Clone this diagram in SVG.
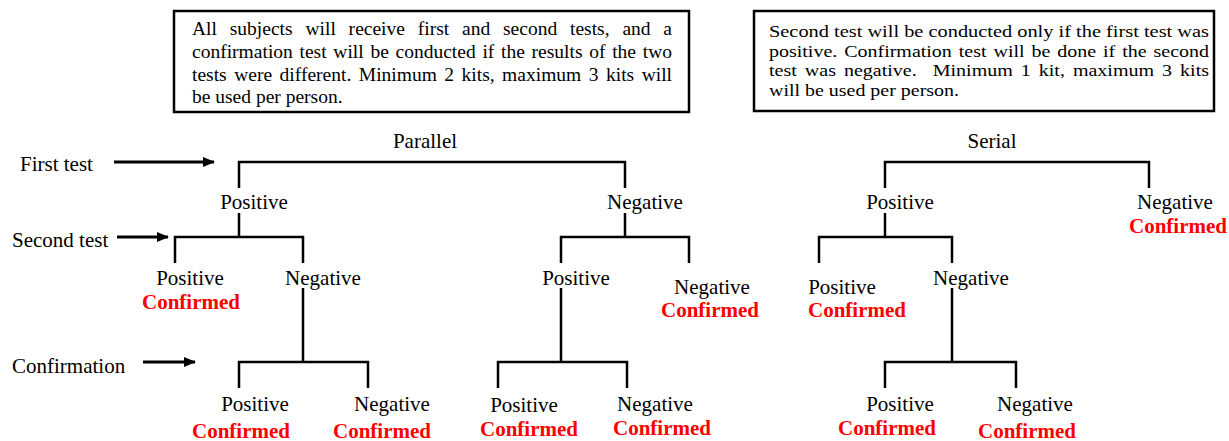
<svg xmlns="http://www.w3.org/2000/svg" width="1229" height="441" viewBox="0 0 1229 441">
<style>
.t{font-family:"Liberation Serif","Times New Roman",serif;font-size:21px;fill:#000}
.c{font-family:"Liberation Serif","Times New Roman",serif;font-size:21px;font-weight:bold;fill:#ff0000}
.b1{font-family:"Liberation Serif","Times New Roman",serif;font-size:19.5px;fill:#000}
.b2{font-family:"Liberation Serif","Times New Roman",serif;font-size:17.5px;fill:#000}
.box{fill:#fff;stroke:#000;stroke-width:2.5}
.ln{fill:none;stroke:#000;stroke-width:2.5}
.ar{fill:none;stroke:#000;stroke-width:3}
.m{text-anchor:middle}
</style>
<defs>
<marker id="ah" viewBox="0 0 12 10" refX="11" refY="5" markerWidth="12" markerHeight="10" markerUnits="userSpaceOnUse" orient="auto">
<path d="M0,0 L12,5 L0,10 Z" fill="#000"/>
</marker>
</defs>

<g id="note-parallel">
<rect class="box" x="174" y="11" width="515" height="101"/>
<text class="b1" x="192" y="35" textLength="480" lengthAdjust="spacing" word-spacing="7.9">All subjects will receive first and second tests, and a</text>
<text class="b1" x="192" y="58" textLength="480" lengthAdjust="spacing" word-spacing="1.8">confirmation test will be conducted if the results of the two</text>
<text class="b1" x="192" y="81" textLength="480" lengthAdjust="spacing" word-spacing="2.6">tests were different. Minimum 2 kits, maximum 3 kits will</text>
<text class="b1" x="192" y="103">be used per person.</text>
</g>

<g id="note-serial">
<rect class="box" x="754" y="11" width="460" height="100"/>
<text class="b2" x="769" y="37" textLength="440" lengthAdjust="spacingAndGlyphs">Second test will be conducted only if the first test was</text>
<text class="b2" x="769" y="56.5" textLength="440" lengthAdjust="spacingAndGlyphs" word-spacing="1.7">positive. Confirmation test will be done if the second</text>
<text class="b2" x="769" y="76" textLength="440" lengthAdjust="spacingAndGlyphs" word-spacing="2.6" xml:space="preserve">test was negative.  Minimum 1 kit, maximum 3 kits</text>
<text class="b2" x="769" y="95.5" textLength="190" lengthAdjust="spacingAndGlyphs">will be used per person.</text>
</g>

<g id="title-parallel"><text class="t m" x="425" y="148">Parallel</text></g>
<g id="title-serial"><text class="t m" x="992" y="148">Serial</text></g>

<g id="label-first"><text class="t" x="20" y="171">First test</text></g>
<g id="label-second"><text class="t" x="12" y="247">Second test</text></g>
<g id="label-confirmation"><text class="t" x="12" y="373">Confirmation</text></g>

<g id="connectors">
<line class="ar" x1="114" y1="162" x2="214" y2="162" marker-end="url(#ah)"/>
<line class="ar" x1="117" y1="237" x2="168" y2="237" marker-end="url(#ah)"/>
<line class="ar" x1="143" y1="362" x2="195" y2="362" marker-end="url(#ah)"/>

<path class="ln" d="M239,188 V162 H625 V188"/>
<path class="ln" d="M239,213 V237"/>
<path class="ln" d="M175,263 V237 H303 V263"/>
<path class="ln" d="M303,288 V362"/>
<path class="ln" d="M239,388 V362 H368 V388"/>
<path class="ln" d="M625,213 V237"/>
<path class="ln" d="M561,263 V237 H689 V263"/>
<path class="ln" d="M561,288 V362"/>
<path class="ln" d="M498,388 V362 H627 V388"/>

<path class="ln" d="M885,188 V162 H1149 V188"/>
<path class="ln" d="M885,213 V237"/>
<path class="ln" d="M819,263 V237 H952 V263"/>
<path class="ln" d="M952,288 V362"/>
<path class="ln" d="M885,388 V362 H1016 V388"/>
</g>

<g id="p-pos"><text class="t m" x="254" y="209">Positive</text></g>
<g id="p-neg"><text class="t m" x="645" y="209">Negative</text></g>
<g id="p-pos-pos"><text class="t m" x="190" y="285">Positive</text><text class="c m" x="191" y="309">Confirmed</text></g>
<g id="p-pos-neg"><text class="t m" x="323" y="285">Negative</text></g>
<g id="p-neg-pos"><text class="t m" x="576" y="285">Positive</text></g>
<g id="p-neg-neg"><text class="t m" x="712" y="294">Negative</text><text class="c m" x="710" y="317">Confirmed</text></g>
<g id="p-pn-pos"><text class="t m" x="255" y="411">Positive</text><text class="c m" x="241" y="438">Confirmed</text></g>
<g id="p-pn-neg"><text class="t m" x="392" y="411">Negative</text><text class="c m" x="382" y="438">Confirmed</text></g>
<g id="p-np-pos"><text class="t m" x="524" y="412">Positive</text><text class="c m" x="529" y="436">Confirmed</text></g>
<g id="p-np-neg"><text class="t m" x="655" y="411">Negative</text><text class="c m" x="662" y="435">Confirmed</text></g>

<g id="s-pos"><text class="t m" x="900" y="209">Positive</text></g>
<g id="s-neg"><text class="t m" x="1175" y="209">Negative</text><text class="c m" x="1178" y="233">Confirmed</text></g>
<g id="s-pos-pos"><text class="t m" x="842" y="294">Positive</text><text class="c m" x="857" y="317">Confirmed</text></g>
<g id="s-pos-neg"><text class="t m" x="971" y="285">Negative</text></g>
<g id="s-pn-pos"><text class="t m" x="900" y="411">Positive</text><text class="c m" x="887" y="435">Confirmed</text></g>
<g id="s-pn-neg"><text class="t m" x="1035" y="411">Negative</text><text class="c m" x="1027" y="438">Confirmed</text></g>
</svg>
